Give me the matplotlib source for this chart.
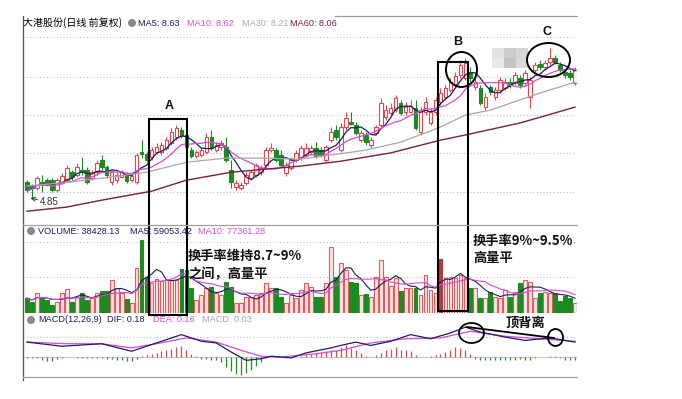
import matplotlib.pyplot as plt
import numpy as np
import pandas as pd
from matplotlib.patches import Rectangle, Ellipse, Circle

plt.rcParams['font.family'] = ['Liberation Sans', 'Noto Sans CJK SC', 'DejaVu Sans']

W, H = 682, 399

# 日K线数据 (开, 收, 高, 低)
opens = [5.31, 5.20, 5.14, 5.31, 5.37, 5.37, 5.08, 5.31, 5.37, 5.60,
         5.52, 5.66, 5.66, 5.43, 5.60, 5.95, 5.75, 5.31, 5.37, 5.46,
         5.52, 5.37, 5.31, 6.18, 6.13, 6.04, 6.18, 6.18, 6.30, 6.45,
         6.62, 6.82, 6.68, 6.24, 6.07, 6.10, 6.18, 6.62, 6.24, 6.33,
         6.33, 5.66, 5.17, 5.14, 5.29, 5.43, 5.52, 5.60, 5.81, 6.24,
         6.24, 6.10, 5.58, 5.72, 5.95, 6.04, 6.10, 6.18, 6.30, 6.24,
         5.95, 6.53, 6.82, 6.24, 6.91, 7.05, 6.97, 6.53, 6.68, 6.39,
         6.74, 6.97, 7.20, 7.32, 7.40, 7.61, 7.34, 7.34, 7.46, 6.76,
         7.34, 7.03, 7.34, 7.63, 7.78, 7.98, 8.16, 8.42, 8.33, 8.50,
         8.07, 8.04, 7.49, 8.07, 7.78, 7.98, 8.04, 8.21, 8.19, 8.33,
         8.19, 7.78, 8.56, 8.74, 8.65, 8.79, 8.91, 8.71, 8.50, 8.48,
         8.19]
closes = [5.08, 5.14, 5.43, 5.23, 5.26, 5.08, 5.37, 5.49, 5.72, 5.46,
          5.75, 5.60, 5.31, 5.60, 5.87, 5.75, 5.52, 5.60, 5.52, 5.60,
          5.34, 5.49, 6.10, 6.13, 5.95, 6.24, 6.33, 6.39, 6.53, 6.76,
          6.88, 6.68, 6.33, 6.07, 6.18, 6.24, 6.62, 6.30, 6.39, 6.45,
          5.95, 5.31, 5.29, 5.23, 5.52, 5.60, 5.81, 5.72, 6.24, 6.30,
          5.95, 5.81, 5.81, 5.95, 6.16, 6.30, 6.30, 6.30, 6.07, 6.10,
          6.33, 6.76, 6.62, 6.91, 7.17, 7.00, 6.74, 6.74, 6.47, 6.53,
          6.91, 7.61, 7.40, 7.46, 7.75, 7.32, 7.55, 7.52, 6.88, 7.40,
          7.63, 7.34, 7.69, 7.90, 8.04, 8.21, 8.39, 8.71, 8.77, 8.33,
          8.21, 7.61, 7.78, 7.92, 7.98, 8.27, 8.21, 8.13, 8.42, 8.13,
          8.48, 8.27, 8.71, 8.65, 8.77, 8.91, 8.79, 8.56, 8.42, 8.36,
          8.56]
highs = [5.37, 5.26, 5.49, 5.52, 5.43, 5.43, 5.43, 5.58, 5.81, 5.66,
         5.87, 6.04, 5.75, 5.66, 5.95, 6.10, 5.81, 5.66, 5.60, 5.66,
         5.60, 5.58, 6.16, 6.53, 6.18, 6.33, 6.45, 6.47, 6.62, 6.88,
         6.97, 6.91, 6.82, 6.33, 6.24, 6.33, 6.74, 6.82, 6.47, 6.53,
         6.62, 5.95, 5.37, 5.31, 5.60, 5.66, 5.87, 5.81, 6.33, 6.45,
         6.30, 6.24, 5.89, 6.04, 6.24, 6.39, 6.45, 6.39, 6.47, 6.33,
         6.39, 6.91, 6.97, 7.03, 7.34, 7.34, 7.05, 6.82, 6.76, 6.62,
         6.97, 7.75, 7.55, 7.61, 7.84, 7.69, 7.63, 7.69, 7.69, 7.49,
         7.78, 7.46, 7.78, 8.04, 8.13, 8.33, 8.50, 8.85, 8.91, 8.65,
         8.33, 8.13, 7.90, 8.13, 8.07, 8.36, 8.33, 8.33, 8.50, 8.42,
         8.56, 8.36, 8.79, 8.85, 8.85, 9.20, 9.00, 8.79, 8.56, 8.56,
         8.65]
lows = [5.02, 4.85, 5.08, 5.02, 5.20, 5.02, 5.02, 5.26, 5.31, 5.37,
        5.46, 5.52, 5.26, 5.37, 5.52, 5.66, 5.43, 5.23, 5.29, 5.43,
        5.29, 5.31, 5.26, 6.01, 5.89, 5.95, 6.13, 6.10, 6.24, 6.39,
        6.53, 6.59, 6.24, 6.01, 6.01, 6.04, 6.13, 6.24, 6.18, 6.24,
        5.89, 5.14, 5.08, 5.08, 5.23, 5.37, 5.46, 5.52, 5.75, 6.18,
        5.89, 5.75, 5.49, 5.66, 5.89, 5.95, 6.04, 6.10, 6.01, 6.04,
        5.89, 6.47, 6.53, 6.18, 6.82, 6.97, 6.68, 6.47, 6.39, 6.30,
        6.68, 6.91, 7.11, 7.26, 7.34, 7.26, 7.26, 7.32, 6.82, 6.68,
        7.26, 6.97, 7.26, 7.55, 7.69, 7.92, 8.07, 8.33, 8.27, 8.21,
        7.98, 7.55, 7.40, 7.84, 7.69, 7.90, 7.98, 8.04, 8.13, 8.04,
        8.13, 7.46, 8.50, 8.56, 8.56, 8.71, 8.74, 8.50, 8.33, 8.27,
        8.13]

# 成交量 (手)
volumes = [57600, 42300, 76900, 61500, 50000, 30700, 42300, 76900, 92200, 42300,
           61500, 76900, 50000, 57600, 76900, 84500, 84500, 126800, 96100, 76900,
           53800, 38400, 172900, 280500, 138300, 115300, 130700, 123000, 126800, 126800,
           126800, 169100, 165200, 96100, 50000, 69200, 96100, 99900, 76900, 69200,
           119100, 99900, 38400, 38400, 61500, 61500, 69200, 76900, 115300, 96100,
           96100, 61500, 38400, 69200, 57600, 88400, 115300, 99900, 61500, 61500,
           115300, 253600, 138300, 192200, 165200, 119100, 115300, 69200, 73000, 61500,
           138300, 203700, 138300, 103800, 134500, 84500, 96100, 96100, 96100, 69200,
           146000, 88400, 76900, 207500, 134500, 138300, 134500, 146000, 134500, 96100,
           96100, 57600, 57600, 80700, 61500, 57600, 88400, 61500, 80700, 115300,
           126800, 119100, 57600, 76900, 80700, 76900, 76900, 46100, 65300, 57600,
           38428]

# 均线 MA30 / MA60 (读取点)
ma30_idx = [0, 7, 17, 24, 32, 40, 47, 55, 61, 68, 75, 83, 88, 93, 103, 110]
ma30_val = [5.20, 5.29, 5.46, 5.60, 5.89, 6.01, 6.01, 5.98, 6.10, 6.24, 6.47, 6.91, 7.26, 7.40, 7.90, 8.21]
ma60_idx = [0, 8, 15, 25, 32, 41, 55, 63, 73, 83, 88, 99, 106, 110]
ma60_val = [4.47, 4.59, 4.79, 5.05, 5.37, 5.60, 5.78, 5.92, 6.16, 6.53, 6.68, 7.03, 7.32, 7.49]

# MACD
dif_idx = [0, 7, 15, 21, 26, 31, 35, 38, 41, 44, 47, 49, 53, 56, 61, 63, 66, 69,
           73, 77, 81, 85, 88, 91, 96, 100, 105, 110]
dif_val = [0.18, 0.13, 0.16, 0.07, 0.17, 0.27, 0.19, 0.17, 0.06, -0.04, -0.02, 0.01,
           -0.01, 0.05, 0.11, 0.14, 0.18, 0.14, 0.19, 0.27, 0.22, 0.29, 0.36, 0.30,
           0.24, 0.20, 0.23, 0.18]
dea_idx = [0, 8, 15, 21, 26, 32, 38, 43, 47, 51, 58, 63, 69, 76, 83, 89, 96, 103, 110]
dea_val = [0.18, 0.16, 0.16, 0.11, 0.16, 0.23, 0.18, 0.08, 0.01, 0.00, 0.04, 0.08,
           0.17, 0.22, 0.23, 0.31, 0.25, 0.22, 0.19]
macd_hist = [-0.01, -0.01, -0.01, -0.03, -0.05, -0.05, -0.02, -0.01, 0.0, 0.0,
             -0.01, -0.01, -0.01, -0.01, -0.01, -0.01, -0.02, -0.02, -0.03, -0.04,
             -0.05, -0.05, -0.02, 0.01, 0.03, 0.04, 0.05, 0.07, 0.08, 0.10,
             0.12, 0.13, 0.09, 0.04, 0.01, -0.02, -0.02, -0.03, -0.04, -0.06,
             -0.12, -0.17, -0.20, -0.22, -0.19, -0.15, -0.11, -0.06, -0.01, 0.0,
             0.0, 0.0, 0.0, 0.0, 0.0, 0.01, 0.02, 0.04, 0.05, 0.06,
             0.07, 0.08, 0.08, 0.12, 0.14, 0.11, 0.08, 0.05, 0.01, 0.0,
             0.02, 0.05, 0.08, 0.10, 0.12, 0.09, 0.08, 0.07, 0.02, 0.0,
             0.0, 0.01, 0.02, 0.04, 0.06, 0.09, 0.12, 0.11, 0.09, 0.04,
             -0.02, -0.04, -0.04, -0.03, -0.04, -0.03, -0.04, -0.03, -0.04, -0.02,
             -0.04, -0.03, -0.01, 0.0, 0.0, 0.01, 0.01, -0.01, -0.03, -0.04,
             -0.04]

RED = '#e2474c'
GREEN = '#1d8a22'
NAVY = '#1c1c66'
MAGENTA = '#d84ad8'
GRAY = '#a8a8a8'
DARKRED = '#7c1f3a'

o = np.array(opens); c = np.array(closes)
h = np.array(highs); l = np.array(lows)
v = np.array(volumes, dtype=float)
n = len(o)
x = np.arange(n)
up = c >= o

fig = plt.figure(figsize=(W / 100, H / 100), dpi=100)


def box(x0, y0, x1, y1):
    return [x0 / W, 1 - y1 / H, (x1 - x0) / W, (y1 - y0) / H]


ax_p = fig.add_axes(box(23, 16, 577, 225))
ax_v = fig.add_axes(box(23, 225, 577, 313))
ax_m = fig.add_axes(box(23, 313, 577, 377))

for ax in (ax_p, ax_v, ax_m):
    ax.set_xlim(-0.8, 110.4)
    ax.set_xticks([])
    ax.set_yticks([])
    for s in ax.spines.values():
        s.set_visible(False)
    ax.patch.set_alpha(0)

dot = (0, (1, 2))

# --- 价格 ---
ax_p.set_ylim(4.07, 10.13)
for gy in [5.02, 6.16, 7.26, 8.36, 9.52]:
    ax_p.axhline(gy, color='#bdbdbd', lw=0.8, ls=dot, zorder=0)
ax_p.vlines(x, l, h, colors=np.where(up, RED, GREEN), lw=0.8, zorder=2)
bot = np.minimum(o, c)
bh = np.maximum(np.abs(c - o), 0.025)
ax_p.bar(x[up], bh[up], bottom=bot[up], width=0.72, facecolor='white',
         edgecolor=RED, lw=0.8, zorder=3)
ax_p.bar(x[~up], bh[~up], bottom=bot[~up], width=0.72, facecolor=GREEN,
         edgecolor=GREEN, lw=0.8, zorder=3)
cs = pd.Series(c)
ax_p.plot(x, cs.rolling(5, min_periods=1).mean(), color=NAVY, lw=0.9, zorder=4)
ax_p.plot(x, cs.rolling(10, min_periods=1).mean(), color=MAGENTA, lw=0.9, zorder=4)
ax_p.plot(ma30_idx, ma30_val, color=GRAY, lw=0.9, zorder=4)
ax_p.plot(ma60_idx, ma60_val, color=DARKRED, lw=1.0, zorder=4)
lo_i = int(np.argmin(l))
ax_p.annotate(f'{l[lo_i]:.2f}', xy=(lo_i - 0.3, l[lo_i]), xytext=(7, -3),
              textcoords='offset points', fontsize=7, color='#333333', va='center',
              arrowprops=dict(arrowstyle='->', lw=0.7, color='#333333',
                              shrinkA=0, shrinkB=0))

# --- 成交量 ---
ax_v.set_ylim(0, 338200)
for gy in [272900, 138300]:
    ax_v.axhline(gy, color='#bdbdbd', lw=0.8, ls=dot, zorder=0)
ax_v.bar(x[up], v[up], width=0.76, facecolor='#fde3e3', edgecolor='#e65b5b', lw=0.8)
ax_v.bar(x[~up], v[~up], width=0.76, facecolor=GREEN, edgecolor=GREEN, lw=0.8)
dark_bar = 83
ax_v.bar([dark_bar], [v[dark_bar]], width=0.76, facecolor='#b53a3a', edgecolor='#b53a3a', lw=0.8)
vs = pd.Series(v)
ax_v.plot(x, vs.rolling(5, min_periods=1).mean(), color=NAVY, lw=0.8, zorder=4)
ax_v.plot(x, vs.rolling(10, min_periods=1).mean(), color=MAGENTA, lw=0.8, zorder=4)

# --- MACD ---
ax_m.set_ylim(-0.24, 0.53)
ax_m.axhline(0.24, color='#bdbdbd', lw=0.8, ls=dot, zorder=0)
ax_m.axhline(0, color='#c8c8c8', lw=0.8, zorder=0)
hist = np.array(macd_hist)
ax_m.vlines(x, 0, hist, colors=np.where(hist >= 0, '#d0504a', '#2a8a2a'), lw=0.9)
ax_m.plot(dea_idx, dea_val, color=MAGENTA, lw=0.9)
ax_m.plot(dif_idx, dif_val, color=NAVY, lw=0.9)

# --- 覆盖层: 边框, 标题, 注释 ---
ov = fig.add_axes([0, 0, 1, 1])
ov.set_xlim(0, W)
ov.set_ylim(H, 0)
ov.axis('off')
ov.patch.set_alpha(0)

ov.plot([23, 23], [16, 380], color='#555555', lw=0.9)
ov.plot([335, 577], [16, 16], color='#9a9a9a', lw=0.9)
ov.plot([23, 577], [225, 225], color='#a0a0a0', lw=0.9)
ov.plot([23, 577], [377, 377], color='#a0a0a0', lw=0.9)

fs = 6.6
ov.text(23, 23, '大港股份(日线 前复权)', fontsize=7.2, va='center', color='black',
        family=['Noto Sans CJK SC', 'DejaVu Sans'])
for cx, cy in [(132, 23), (31, 231), (31, 320)]:
    ov.add_patch(Circle((cx, cy), 3.3, color='#8a8a8a'))
ov.text(138, 23, 'MA5: 8.63', fontsize=fs, va='center', color=NAVY)
ov.text(187, 23, 'MA10: 8.62', fontsize=fs, va='center', color=MAGENTA)
ov.text(242, 23, 'MA30: 8.21', fontsize=fs, va='center', color=GRAY)
ov.text(290, 23, 'MA60: 8.06', fontsize=fs, va='center', color=DARKRED)

ov.text(38, 231, 'VOLUME: 38428.13', fontsize=fs, va='center', color=NAVY)
ov.text(130, 231, 'MA5: 59053.42', fontsize=fs, va='center', color=NAVY)
ov.text(198, 231, 'MA10: 77361.28', fontsize=fs, va='center', color=MAGENTA)

ov.text(38, 320, 'MACD(12,26,9)', fontsize=fs, va='center', color=NAVY)
ov.text(107, 320, 'DIF: 0.18', fontsize=fs, va='center', color=NAVY)
ov.text(153, 320, 'DEA: 0.16', fontsize=fs, va='center', color=MAGENTA)
ov.text(202, 320, 'MACD: 0.03', fontsize=fs, va='center', color=GRAY)

# 马赛克
shades = [['#e2e2e2', '#cdcdcd', '#d6d6d6'], ['#e8e8e8', '#c4c4c4', '#dadada']]
for r, row in enumerate(shades):
    for k, col in enumerate(row):
        ov.add_patch(Rectangle((492 + 12 * k, 48 + 10 * r), 12, 10, color=col, lw=0))

# 框和圆
ov.add_patch(Rectangle((149, 119), 38, 196, fill=False, ec='black', lw=1.5))
ov.add_patch(Rectangle((438, 62), 30, 249, fill=False, ec='black', lw=1.5))
ov.add_patch(Ellipse((461.5, 69.5), 31, 35, fill=False, ec='black', lw=1.4))
ov.add_patch(Ellipse((548.5, 60), 43, 34, fill=False, ec='black', lw=1.4))
ov.add_patch(Ellipse((471.5, 333), 25, 20, fill=False, ec='black', lw=1.3))
ov.add_patch(Ellipse((555.5, 337.5), 15, 17, fill=False, ec='black', lw=1.3))
ov.plot([467, 554], [327, 338], color='black', lw=1.3)

bold = dict(fontweight='bold', color='#111111')
ov.text(169, 106, 'A', fontsize=9, ha='center', va='center', **bold)
ov.text(458, 42, 'B', fontsize=9, ha='center', va='center', **bold)
ov.text(547, 32, 'C', fontsize=9, ha='center', va='center', **bold)

cjk = ['Noto Sans CJK SC', 'DejaVu Sans']
ov.text(188, 256, '换手率维持8.7~9%', fontsize=9.5, va='center', family=cjk, **bold)
ov.text(188, 274, '之间，高量平', fontsize=9.5, va='center', family=cjk, **bold)
ov.text(473, 241, '换手率9%~9.5%', fontsize=9.5, va='center', family=cjk, **bold)
ov.text(473, 258, '高量平', fontsize=9.5, va='center', family=cjk, **bold)
ov.text(505, 323, '顶背离', fontsize=9.5, va='center', family=cjk, **bold)

fig.savefig('out.png', dpi=100)
